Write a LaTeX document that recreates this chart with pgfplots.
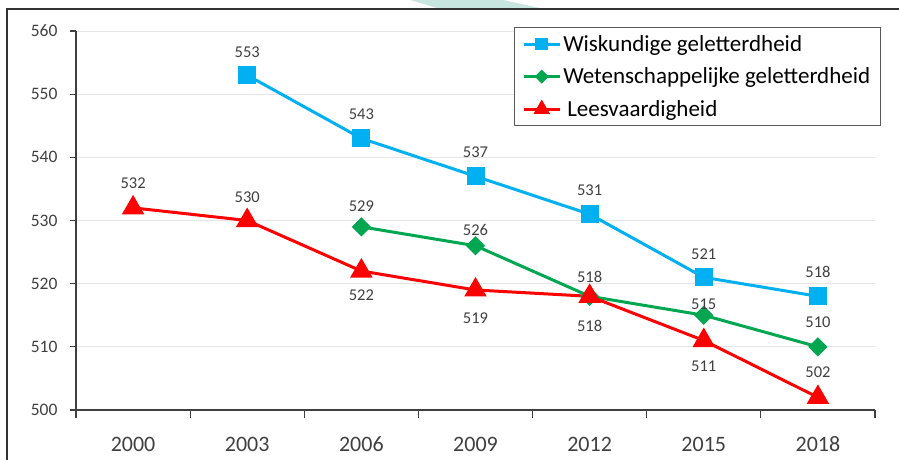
\documentclass[border=0pt]{standalone}
\usepackage{pgfplots}
\pgfplotsset{compat=1.18}
\usepackage{pgfplotstable}
\usepackage{fontspec}
\setmainfont{Carlito}
\definecolor{wblue}{HTML}{00B0F0}
\definecolor{wgreen}{HTML}{00A650}
\definecolor{wred}{HTML}{FF0000}
\definecolor{axisgray}{HTML}{404040}
\definecolor{labgray}{HTML}{404040}
\definecolor{wm}{HTML}{C8E6E0}

\pgfplotstableread{
x y dy
1 553 23
2 543 24
3 537 24
4 531 24
5 521 23
6 518 24
}\wisk
\pgfplotstableread{
x y dy
2 529 21
3 526 16
4 518 19
5 515 11
6 510 25
}\wet
\pgfplotstableread{
x y dy
0 532 25
1 530 24
2 522 -24
3 519 -28
4 518 -30
5 511 -25
6 502 25
}\lees

\begin{document}
\begin{tikzpicture}
\path[use as bounding box] (0,0) rectangle (899pt,460pt);
\fill[wm] (410pt,460pt) -- (503pt,460pt) -- (540pt,452pt) -- (437pt,452pt) -- cycle;
\draw[line width=1.5pt, black!80] (7pt,0pt) -- (7pt,451pt) -- (899pt,451pt);
\begin{axis}[
  at={(76pt,50pt)}, anchor=south west,
  scale only axis, width=799pt, height=379pt,
  xmin=-0.5, xmax=6.5, ymin=500, ymax=560,
  axis x line*=bottom, axis y line*=left,
  axis line style={axisgray, line width=1.3pt},
  xtick={0,...,6},
  xticklabels={2000,2003,2006,2009,2012,2015,2018},
  minor xtick={-0.5,0.5,...,6.5},
  major x tick style={draw=none},
  minor x tick style={axisgray, line width=1.2pt},
  ytick={500,510,...,560},
  y tick style={axisgray, line width=1.2pt},
  tick align=outside,
  major tick length=6pt,
  minor tick length=8pt,
  ymajorgrids,
  grid style={black!10, line width=0.8pt},
  xticklabel style={font=\fontsize{22}{22}\selectfont, text=labgray, anchor=north, text height=15pt, text depth=0pt, yshift=-17pt},
  yticklabel style={font=\fontsize{17.5}{17.5}\selectfont, text=labgray, xshift=-9pt},
  /pgf/number format/assume math mode=true,
  legend style={at={(0.548,1.0106)}, anchor=north west,
    draw=black!65, line width=0.8pt,
    font=\fontsize{23}{23}\selectfont,
    row sep=11pt, inner xsep=8pt, inner ysep=6pt},
  legend cell align=left,
  legend image code/.code={\draw[mark repeat=2, mark phase=2, every mark/.append style={scale=0.65}] plot coordinates {(0pt,0pt) (18pt,0pt) (36pt,0pt)};},
  every node near coord/.append style={anchor=center, text height=11pt, text depth=0pt, yshift=\dy pt, font=\fontsize{16.5}{16.5}\selectfont, text=labgray},
  nodes near coords,
  visualization depends on={\thisrow{dy} \as \dy},
]
\addplot[wblue, line width=3pt, mark=square*, mark size=7.5pt, mark options={solid}] table[x=x, y=y] {\wisk};
\addlegendentry{Wiskundige geletterdheid}
\addplot[wgreen, line width=3pt, mark=square*, mark size=5.3pt, mark options={solid, rotate=45}] table[x=x, y=y] {\wet};
\addlegendentry{Wetenschappelijke geletterdheid}
\addplot[wred, line width=3pt, mark=triangle*, mark size=10pt, mark options={solid}] table[x=x, y=y] {\lees};
\addlegendentry{\hspace{4pt}Leesvaardigheid}
\end{axis}
\end{tikzpicture}
\end{document}
